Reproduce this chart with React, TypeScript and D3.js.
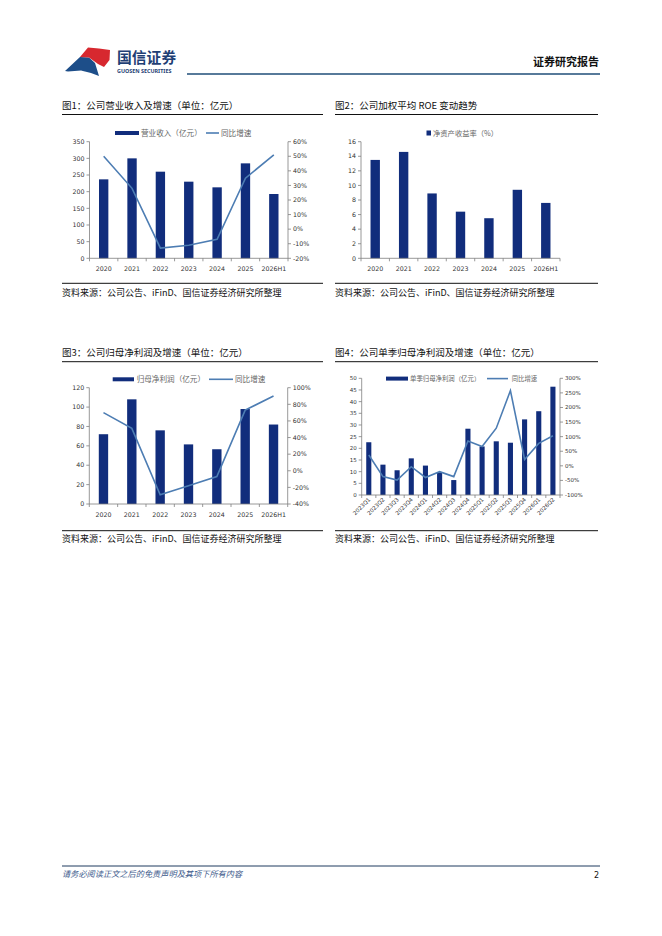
import React from 'react';
import * as d3 from 'd3';

const years = ['2020', '2021', '2022', '2023', '2024', '2025', '2026H1'];
const revenue = [237, 300, 260, 230, 213, 285, 193];
const revenueYoY = [50, 28, -13, -11, -7, 35, 51];
const revenueTicks = [0, 50, 100, 150, 200, 250, 300, 350];
const revenueYoYTicks = [-20, -10, 0, 10, 20, 30, 40, 50, 60];

const roe = [13.5, 14.6, 8.9, 6.4, 5.5, 9.4, 7.6];
const roeTicks = [0, 2, 4, 6, 8, 10, 12, 14, 16];

const netProfit = [72, 108, 76, 61.5, 56.5, 98, 82];
const netProfitYoY = [70, 51, -29, -18, -7, 73, 90];
const netProfitTicks = [0, 20, 40, 60, 80, 100, 120];
const netProfitYoYTicks = [-40, -20, 0, 20, 40, 60, 80, 100];

const quarters = ['2023Q1', '2023Q2', '2023Q3', '2023Q4', '2024Q1', '2024Q2', '2024Q3', '2024Q4', '2025Q1', '2025Q2', '2025Q3', '2025Q4', '2026Q1', '2026Q2'];
const quarterProfit = [22.6, 13.0, 10.6, 15.7, 12.6, 9.7, 6.4, 28.4, 20.8, 23.0, 22.4, 32.4, 35.9, 46.4];
const quarterYoY = [37, -37, -49, -3, -40, -20, -37, 85, 66, 129, 258, 22, 77, 103];
const quarterTicks = [0, 5, 10, 15, 20, 25, 30, 35, 40, 45, 50];
const quarterYoYTicks = [-100, -50, 0, 50, 100, 150, 200, 250, 300];

const BAR = '#112d7c';
const LINE = '#4d7db3';
const AXIS = '#7f7f7f';
const CJK = '"Noto Sans CJK SC", "Noto Sans", sans-serif';
const NUM = '"DejaVu Sans", "Noto Sans", sans-serif';

type ChartProps = {
  x0: number; x1: number; yTop: number; yBottom: number;
  categories: string[];
  bars: number[]; barTicks: number[];
  line?: number[]; lineTicks?: number[];
  fontSize: number;
  rotate?: boolean;
  barPad: number;
  xLabelY: number;
};

function ComboChart(p: ChartProps) {
  const x = d3.scaleBand<string>().domain(p.categories).range([p.x0, p.x1]).paddingInner(0).paddingOuter(0);
  const step = x.step();
  const bw = step * (1 - p.barPad);
  const yL = d3.scaleLinear().domain([p.barTicks[0], p.barTicks[p.barTicks.length - 1]]).range([p.yBottom, p.yTop]);
  const yR = p.lineTicks ? d3.scaleLinear().domain([p.lineTicks[0], p.lineTicks[p.lineTicks.length - 1]]).range([p.yBottom, p.yTop]) : null;
  const lineGen = d3.line<number>().x((_, i) => (x(p.categories[i]) as number) + step / 2).y(d => (yR as any)(d));
  return (
    <g>
      {p.bars.map((v, i) => (
        <rect key={i} x={(x(p.categories[i]) as number) + (step - bw) / 2} y={yL(v)} width={bw} height={p.yBottom - yL(v)} fill={BAR} />
      ))}
      <line x1={p.x0} x2={p.x0} y1={p.yTop} y2={p.yBottom} stroke={AXIS} strokeWidth={0.8} />
      {p.barTicks.map(t => (
        <g key={'l' + t}>
          <line x1={p.x0 - 3} x2={p.x0} y1={yL(t)} y2={yL(t)} stroke={AXIS} strokeWidth={0.8} />
          <text x={p.x0 - 5} y={yL(t)} dy="0.35em" textAnchor="end" fontSize={p.fontSize} fontFamily={NUM} fill="#333">{t}</text>
        </g>
      ))}
      {yR && p.lineTicks && (
        <g>
          <line x1={p.x1} x2={p.x1} y1={p.yTop} y2={p.yBottom} stroke={AXIS} strokeWidth={0.8} />
          {p.lineTicks.map(t => (
            <g key={'r' + t}>
              <line x1={p.x1} x2={p.x1 + 3} y1={yR(t)} y2={yR(t)} stroke={AXIS} strokeWidth={0.8} />
              <text x={p.x1 + 5} y={yR(t)} dy="0.35em" textAnchor="start" fontSize={p.fontSize} fontFamily={NUM} fill="#333">{t + '%'}</text>
            </g>
          ))}
        </g>
      )}
      <line x1={p.x0} x2={p.x1} y1={p.yBottom} y2={p.yBottom} stroke={AXIS} strokeWidth={0.8} />
      {d3.range(p.categories.length + 1).map(i => (
        <line key={'xt' + i} x1={p.x0 + i * step} x2={p.x0 + i * step} y1={p.yBottom} y2={p.yBottom + 3} stroke={AXIS} strokeWidth={0.8} />
      ))}
      {p.categories.map(c => {
        const cx = (x(c) as number) + step / 2;
        return p.rotate ? (
          <text key={'xl' + c} transform={`translate(${cx + 2},${p.xLabelY}) rotate(-45)`} textAnchor="end" fontSize={p.fontSize} fontFamily={NUM} fill="#333">{c}</text>
        ) : (
          <text key={'xl' + c} x={cx} y={p.xLabelY} dy="0.35em" textAnchor="middle" fontSize={p.fontSize} fontFamily={NUM} fill="#333">{c}</text>
        );
      })}
      {p.line && yR && (
        <path d={lineGen(p.line) as string} fill="none" stroke={LINE} strokeWidth={1.6} />
      )}
    </g>
  );
}

function Legend(props: { y: number; rx0: number; rx1: number; t1: string; t1x: number; lx0?: number; lx1?: number; t2?: string; t2x?: number; fs: number; square?: boolean }) {
  const { y } = props;
  return (
    <g>
      {props.square ? (
        <rect x={props.rx0} y={y - 2.5} width={props.rx1 - props.rx0} height={5} fill={BAR} />
      ) : (
        <rect x={props.rx0} y={y - 2} width={props.rx1 - props.rx0} height={4} fill={BAR} />
      )}
      <text x={props.t1x} y={y} dy="0.35em" fontSize={props.fs} fontFamily={CJK} fill="#666">{props.t1}</text>
      {props.t2 && (
        <g>
          <line x1={props.lx0} x2={props.lx1} y1={y} y2={y} stroke={LINE} strokeWidth={1.6} />
          <text x={props.t2x} y={y} dy="0.35em" fontSize={props.fs} fontFamily={CJK} fill="#666">{props.t2}</text>
        </g>
      )}
    </g>
  );
}

function Frame(props: { x0: number; x1: number; title: string; titleY: number; lineY: number; capLineY: number; capY: number }) {
  return (
    <g>
      <text x={props.x0} y={props.titleY} dy="0.35em" fontSize={9.5} fontFamily={CJK} fill="#111">{props.title}</text>
      <line x1={props.x0} x2={props.x1} y1={props.lineY} y2={props.lineY} stroke="#111" strokeWidth={1} />
      <line x1={props.x0} x2={props.x1} y1={props.capLineY} y2={props.capLineY} stroke="#111" strokeWidth={1} />
      <text x={props.x0} y={props.capY} dy="0.35em" fontSize={9} fontFamily={CJK} fill="#111">资料来源：公司公告、iFinD、国信证券经济研究所整理</text>
    </g>
  );
}

export default function App() {
  return (
    <div style={{ position: 'absolute', left: 0, top: 0, width: 662, height: 936, background: '#fff' }}>
      <svg width={662} height={936} viewBox="0 0 662 936">
        <rect x={0} y={0} width={662} height={936} fill="#fff" />
        {/* header */}
        <path d="M65,71 L80,57 L89,57.5 L95,63 L99,76 L91,73 L81,70.5 L68,71.5 Z" fill="#1d4e89" />
        <path d="M80,57 L88,47.5 L99,48.5 L110,50 L109.5,60 L104,67 L98,64 L89,57.5 Z" fill="#d7282f" />
        <text x={117} y={58} dy="0.35em" fontSize={14.8} fontWeight={700} fontFamily={CJK} fill="#1f3f75">国信证券</text>
        <text x={117} y={71} dy="0.35em" fontSize={5.4} fontWeight={700} fontFamily={'"Noto Sans", sans-serif'} fill="#1f3f75">GUOSEN SECURITIES</text>
        <text x={599} y={62} dy="0.35em" textAnchor="end" fontSize={11} fontWeight={700} fontFamily={CJK} fill="#111">证券研究报告</text>
        <line x1={187} x2={600} y1={74} y2={74} stroke="#1f4e79" strokeWidth={1.6} />

        {/* chart 1 */}
        <Frame x0={62} x1={323} title="图1：公司营业收入及增速（单位：亿元）" titleY={106} lineY={114.5} capLineY={283.3} capY={292.5} />
        <Legend y={133} rx0={115} rx1={139} t1="营业收入（亿元）" t1x={141} lx0={206} lx1={219} t2="同比增速" t2x={221} fs={7.6} />
        <ComboChart x0={89.5} x1={288} yTop={141.7} yBottom={258.3} categories={years} bars={revenue} barTicks={revenueTicks} line={revenueYoY} lineTicks={revenueYoYTicks} fontSize={6.3} barPad={0.67} xLabelY={269} />

        {/* chart 2 */}
        <Frame x0={335} x1={598} title="图2：公司加权平均 ROE 变动趋势" titleY={106} lineY={114.5} capLineY={283.3} capY={292.5} />
        <Legend y={133} rx0={426.5} rx1={431} t1="净资产收益率（%）" t1x={433} fs={7.3} square />
        <ComboChart x0={361} x1={560} yTop={141.7} yBottom={258.3} categories={years} bars={roe} barTicks={roeTicks} fontSize={6.3} barPad={0.67} xLabelY={269} />

        {/* chart 3 */}
        <Frame x0={62} x1={323} title="图3：公司归母净利润及增速（单位：亿元）" titleY={352.7} lineY={361.7} capLineY={530.7} capY={539.3} />
        <Legend y={379.3} rx0={112.7} rx1={134} t1="归母净利润（亿元）" t1x={136.7} lx0={209} lx1={233} t2="同比增速" t2x={235} fs={7.6} />
        <ComboChart x0={89.3} x1={287.7} yTop={387.7} yBottom={504} categories={years} bars={netProfit} barTicks={netProfitTicks} line={netProfitYoY} lineTicks={netProfitYoYTicks} fontSize={6.3} barPad={0.67} xLabelY={514.5} />

        {/* chart 4 */}
        <Frame x0={335} x1={598} title="图4：公司单季归母净利润及增速（单位：亿元）" titleY={352.7} lineY={361.7} capLineY={530.7} capY={539.3} />
        <ComboChart x0={361.7} x1={560} yTop={378.3} yBottom={495} categories={quarters} bars={quarterProfit} barTicks={quarterTicks} line={quarterYoY} lineTicks={quarterYoYTicks} fontSize={5.5} barPad={0.64} xLabelY={500} rotate />
        <Legend y={378.6} rx0={386} rx1={408} t1="单季归母净利润（亿元）" t1x={410} lx0={487} lx1={508} t2="同比增速" t2x={511.7} fs={6.4} />

        {/* footer */}
        <line x1={62} x2={600} y1={866} y2={866} stroke="#1f3a5f" strokeWidth={1} />
        <text x={62} y={874.5} dy="0.35em" fontSize={8.2} fontStyle="italic" fontFamily={CJK} fill="#3c5a8c">请务必阅读正文之后的免责声明及其项下所有内容</text>
        <text x={599} y={875} dy="0.35em" textAnchor="end" fontSize={8} fontFamily={NUM} fill="#111">2</text>
      </svg>
    </div>
  );
}
